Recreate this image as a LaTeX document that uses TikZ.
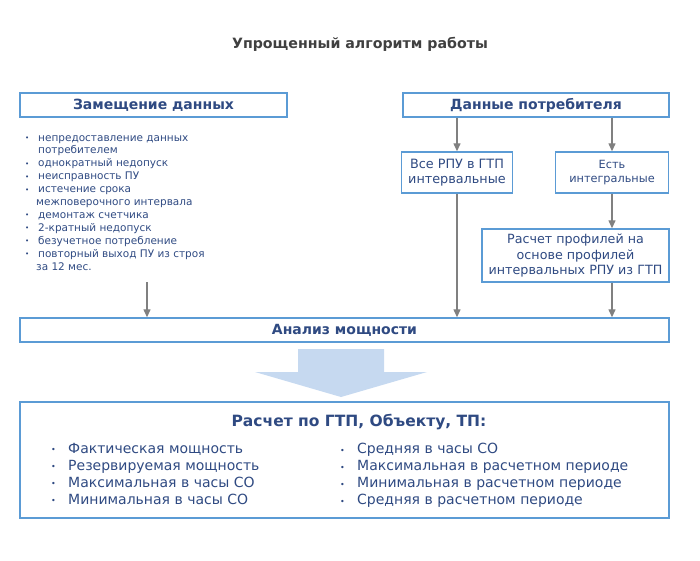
\documentclass[tikz,border=0pt]{standalone}
\usepackage{fontspec}
\setmainfont{DejaVu Sans}
\usepackage{tikz}
\usetikzlibrary{arrows.meta, positioning}

\definecolor{txtblue}{RGB}{47,74,130}
\definecolor{lineblue}{RGB}{91,155,213}
\definecolor{arrgray}{RGB}{128,128,128}
\definecolor{fillblue}{RGB}{198,217,240}
\newcommand{\bul}{\makebox[13pt][l]{\raisebox{0.5pt}{\scriptsize •}}}
\newcommand{\bulb}{\makebox[17pt][l]{\raisebox{0.5pt}{\footnotesize •}}}

\begin{document}
\begin{tikzpicture}[x=1pt, y=-1pt,
		box/.style = {draw=lineblue, line width=1.4pt, fill=white, text=txtblue, align=center, inner sep=2pt},
		hdr/.style = {box, font=\bfseries\fontsize{14}{16}\selectfont},
		small/.style = {box, font=\fontsize{12.8}{15}\selectfont},
		arr/.style = {color=arrgray, line width=1.3pt, -{Triangle[length=8pt, width=7pt]}},
		list/.style = {align=left, text=txtblue, inner sep=0pt, anchor=north west}
	]
		\useasboundingbox (0,0) rectangle (700,560);

		\node (title) [font=\bfseries\fontsize{14.2}{16}\selectfont, text={rgb,255:red,64;green,64;blue,64}] at (360,44) {Упрощенный алгоритм работы};

		\node (zam) [hdr, minimum width=267pt, minimum height=24pt] at (153.5,105) {Замещение данных};
		\node (dp) [hdr, minimum width=266pt, minimum height=24pt] at (536,105) {Данные потребителя};

		\node (vse) [small, minimum width=111pt, minimum height=41pt] at (457,172.5) {Все РПУ в ГТП\\интервальные};
		\node (est) [small, font=\fontsize{11.3}{14}\selectfont, minimum width=113pt, minimum height=41pt] at (612,172.5) {Есть\\интегральные};
		\node (prof) [small, font=\fontsize{12.7}{15.5}\selectfont, minimum width=187pt, minimum height=53pt] at (575.5,255.5) {Расчет профилей на\\основе профилей\\интервальных РПУ из ГТП};

		\node (an) [hdr, font=\bfseries\fontsize{14}{16}\selectfont, minimum width=649pt, minimum height=24pt] at (344.5,330) {Анализ мощности};

		% причины замещения
		\node (why) [list, font=\fontsize{10.5}{12.9}\selectfont] at (25,135) {%
			\bul непредоставление данных\\
			\hspace*{13pt}потребителем\\
			\bul однократный недопуск\\
			\bul неисправность ПУ\\
			\bul истечение срока\\
			\hspace*{11pt}межповерочного интервала\\
			\bul демонтаж счетчика\\
			\bul 2-кратный недопуск\\
			\bul безучетное потребление\\
			\bul повторный выход ПУ из строя\\
			\hspace*{11pt}за 12 мес.};
		\coordinate (whyend) at (147,282);

		\path [arr]
		(dp.south -| vse) edge (vse.north)
		(dp.south -| est) edge (est.north)
		(est.south) edge (est.south |- prof.north)
		(vse.south) edge (vse.south |- an.north)
		(prof.south -| est) edge (est |- an.north)
		(whyend) edge (whyend |- an.north)
		;

		% большая стрелка
		\fill [fillblue] (298,349) -- (384,349) -- (384,372) -- (427,372) -- (341,397) -- (255,372) -- (298,372) -- cycle;

		\node (res) [box, minimum width=649pt, minimum height=116pt] at (344.5,460) {};
		\node (res title) [text=txtblue, font=\bfseries\fontsize{15.5}{18}\selectfont] at (359,422) {Расчет по ГТП, Объекту, ТП:};
		\node (res left) [list, font=\fontsize{14}{17}\selectfont] at (51,443) {%
			\bulb Фактическая мощность\\
			\bulb Резервируемая мощность\\
			\bulb Максимальная в часы СО\\
			\bulb Минимальная в часы СО};
		\node (res right) [list, font=\fontsize{14}{17}\selectfont] at (340,443) {%
			\bulb Средняя в часы СО\\
			\bulb Максимальная в расчетном периоде\\
			\bulb Минимальная в расчетном периоде\\
			\bulb Средняя в расчетном периоде};
	\end{tikzpicture}
\end{document}
